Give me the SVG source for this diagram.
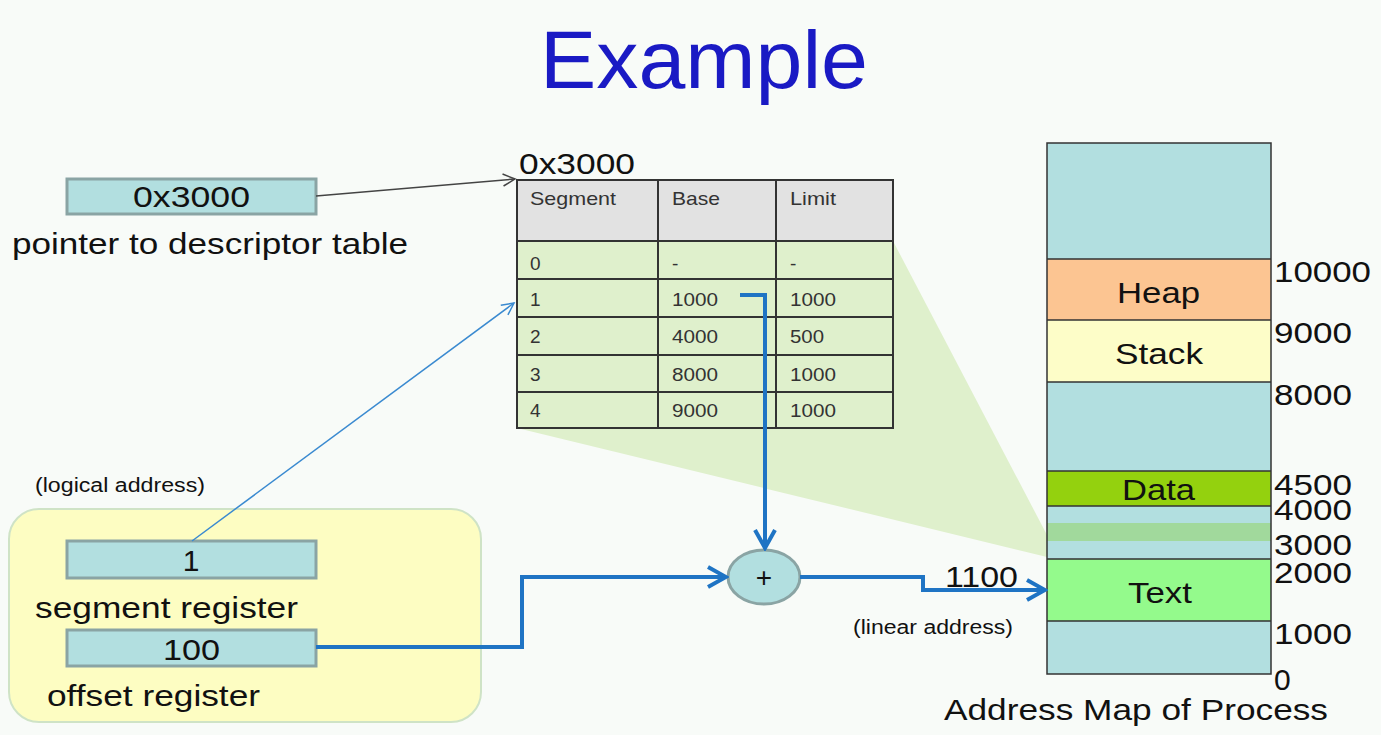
<svg xmlns="http://www.w3.org/2000/svg" width="1381" height="735" viewBox="0 0 1381 735">
<defs>
<style>
text{font-family:"Liberation Sans",Arial,sans-serif;fill:#111}
.big{font-size:30px}
.mid{font-size:20px}
.tbl{font-size:19px;fill:#333}
.reg{fill:#b2dfe0;stroke:#8aa4a4;stroke-width:3}
.cell{stroke:#333;stroke-width:2;fill:none}
.blue{fill:none;stroke:#1f74c4;stroke-width:4}
.seg{stroke:#333;stroke-width:1.5}
</style>
<marker id="abig" viewBox="0 0 24 24" refX="21" refY="12" markerWidth="24" markerHeight="24" markerUnits="userSpaceOnUse" orient="auto"><path d="M3,2 L21,12 L3,22" fill="none" stroke="#1f74c4" stroke-width="4"/></marker>
<marker id="athin" viewBox="0 0 16 16" refX="14" refY="8" markerWidth="16" markerHeight="16" markerUnits="userSpaceOnUse" orient="auto"><path d="M2,2 L14,8 L2,14" fill="none" stroke="#444" stroke-width="1.5"/></marker>
<marker id="ablue" viewBox="0 0 16 16" refX="14" refY="8" markerWidth="16" markerHeight="16" markerUnits="userSpaceOnUse" orient="auto"><path d="M2,2 L14,8 L2,14" fill="none" stroke="#3a8ad0" stroke-width="1.5"/></marker>
</defs>
<rect width="1381" height="735" fill="#f8fbf8"/>
<text x="540" y="88" font-size="82" textLength="328" lengthAdjust="spacingAndGlyphs" style="fill:#1a1ac4">Example</text>

<g id="shadow"><polygon points="517,241 893,241 1047,535 1047,557 517,428" fill="#dff0cc"/></g>

<g id="pointer">
<rect class="reg" x="67" y="179" width="249" height="35"/>
<text class="big" x="133" y="207" textLength="117" lengthAdjust="spacingAndGlyphs">0x3000</text>
<text class="big" x="12" y="254" textLength="396" lengthAdjust="spacingAndGlyphs">pointer to descriptor table</text>
</g>

<g id="table">
<text class="big" x="519" y="174" textLength="116" lengthAdjust="spacingAndGlyphs">0x3000</text>
<rect x="517" y="180" width="376" height="61" fill="#e2e2e2"/>
<rect x="517" y="241" width="376" height="187" fill="#dff0cc"/>
<rect class="cell" x="517" y="180" width="376" height="248"/>
<path class="cell" d="M517,241H893M517,279H893M517,317H893M517,355H893M517,392H893M658,180V428M776,180V428"/>
<text class="tbl" x="530" y="205" textLength="86" lengthAdjust="spacingAndGlyphs">Segment</text>
<text class="tbl" x="672" y="205" textLength="48" lengthAdjust="spacingAndGlyphs">Base</text>
<text class="tbl" x="790" y="205" textLength="46" lengthAdjust="spacingAndGlyphs">Limit</text>
<text class="tbl" x="530" y="270">0</text><text class="tbl" x="672" y="270">-</text><text class="tbl" x="790" y="270">-</text>
<text class="tbl" x="530" y="306">1</text><text class="tbl" x="672" y="306" textLength="46" lengthAdjust="spacingAndGlyphs">1000</text><text class="tbl" x="790" y="306" textLength="46" lengthAdjust="spacingAndGlyphs">1000</text>
<text class="tbl" x="530" y="343">2</text><text class="tbl" x="672" y="343" textLength="46" lengthAdjust="spacingAndGlyphs">4000</text><text class="tbl" x="790" y="343" textLength="34" lengthAdjust="spacingAndGlyphs">500</text>
<text class="tbl" x="530" y="381">3</text><text class="tbl" x="672" y="381" textLength="46" lengthAdjust="spacingAndGlyphs">8000</text><text class="tbl" x="790" y="381" textLength="46" lengthAdjust="spacingAndGlyphs">1000</text>
<text class="tbl" x="530" y="417">4</text><text class="tbl" x="672" y="417" textLength="46" lengthAdjust="spacingAndGlyphs">9000</text><text class="tbl" x="790" y="417" textLength="46" lengthAdjust="spacingAndGlyphs">1000</text>
</g>

<g id="logical">
<text class="mid" x="35" y="492" textLength="170" lengthAdjust="spacingAndGlyphs">(logical address)</text>
<rect x="9" y="509" width="472" height="213" rx="30" fill="#fdfdc2" stroke="#cfe3c6" stroke-width="2"/>
<rect class="reg" x="67" y="541" width="249" height="37"/>
<text class="big" x="191" y="571" text-anchor="middle">1</text>
<text class="big" x="35" y="618" textLength="263" lengthAdjust="spacingAndGlyphs">segment register</text>
<rect class="reg" x="67" y="630" width="249" height="36"/>
<text class="big" x="163" y="660" textLength="57" lengthAdjust="spacingAndGlyphs">100</text>
<text class="big" x="47" y="706" textLength="213" lengthAdjust="spacingAndGlyphs">offset register</text>
</g>

<g id="adder">
<ellipse cx="764" cy="577" rx="36" ry="27" fill="#b2dfe0" stroke="#8aa4a4" stroke-width="3"/>
<text x="764" y="587" font-size="28" text-anchor="middle">+</text>
</g>

<g id="memory">
<rect x="1047" y="143" width="224" height="531" fill="#b2dfe0"/>
<rect x="1047" y="259" width="224" height="61" fill="#fcc592"/>
<rect x="1047" y="320" width="224" height="62" fill="#fdfdc8"/>
<rect x="1047" y="471" width="224" height="35" fill="#94d10e"/>
<rect x="1047" y="523" width="224" height="18" fill="#a1d99c"/>
<rect x="1047" y="559" width="224" height="62" fill="#94fa8c"/>
<path class="seg" d="M1047,259H1271M1047,320H1271M1047,382H1271M1047,471H1271M1047,506H1271M1047,559H1271M1047,621H1271"/>
<rect x="1047" y="143" width="224" height="531" fill="none" stroke="#333" stroke-width="1.5"/>
<text class="big" x="1117" y="303" textLength="83" lengthAdjust="spacingAndGlyphs">Heap</text>
<text class="big" x="1115" y="364" textLength="88" lengthAdjust="spacingAndGlyphs">Stack</text>
<text class="big" x="1122" y="500" textLength="73" lengthAdjust="spacingAndGlyphs">Data</text>
<text class="big" x="1128" y="603" textLength="64" lengthAdjust="spacingAndGlyphs">Text</text>
<text class="big" x="1274" y="282" textLength="97" lengthAdjust="spacingAndGlyphs">10000</text>
<text class="big" x="1274" y="343" textLength="78" lengthAdjust="spacingAndGlyphs">9000</text>
<text class="big" x="1274" y="405" textLength="78" lengthAdjust="spacingAndGlyphs">8000</text>
<text class="big" x="1274" y="495" textLength="78" lengthAdjust="spacingAndGlyphs">4500</text>
<text class="big" x="1274" y="520" textLength="78" lengthAdjust="spacingAndGlyphs">4000</text>
<text class="big" x="1274" y="555" textLength="78" lengthAdjust="spacingAndGlyphs">3000</text>
<text class="big" x="1274" y="583" textLength="78" lengthAdjust="spacingAndGlyphs">2000</text>
<text class="big" x="1274" y="644" textLength="78" lengthAdjust="spacingAndGlyphs">1000</text>
<text class="big" x="1274" y="690">0</text>
<text class="big" x="944" y="720" textLength="384" lengthAdjust="spacingAndGlyphs">Address Map of Process</text>
</g>

<g id="connectors">
<line x1="316" y1="196" x2="515" y2="179" stroke="#444" stroke-width="1.5" marker-end="url(#athin)"/>
<line x1="192" y1="541" x2="514" y2="303" stroke="#3a8ad0" stroke-width="1.5" marker-end="url(#ablue)"/>
<polyline class="blue" points="740,295 765,295 765,548" marker-end="url(#abig)"/>
<polyline class="blue" points="316,647 522,647 522,577 726,577" marker-end="url(#abig)"/>
<polyline class="blue" points="800,577 923,577 923,590 1045,590" marker-end="url(#abig)"/>
<text class="big" x="945" y="587" textLength="73" lengthAdjust="spacingAndGlyphs">1100</text>
<text class="mid" x="853" y="634" textLength="160" lengthAdjust="spacingAndGlyphs">(linear address)</text>
</g>
</svg>
